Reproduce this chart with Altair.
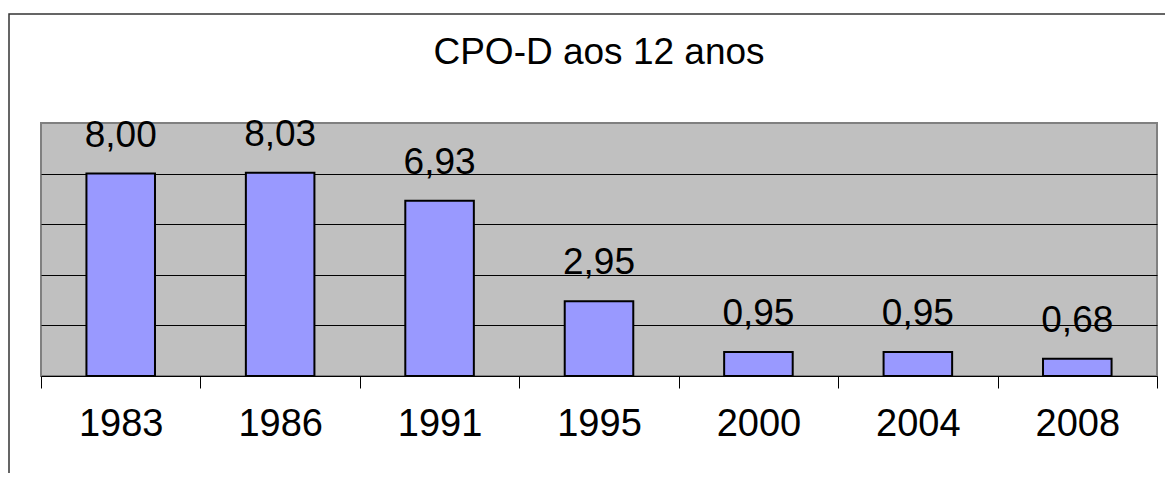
import altair as alt
import pandas as pd

years = ["1983", "1986", "1991", "1995", "2000", "2004", "2008"]
values = [8.00, 8.03, 6.93, 2.95, 0.95, 0.95, 0.68]
labels = ["8,00", "8,03", "6,93", "2,95", "0,95", "0,95", "0,68"]
title_text = "CPO-D aos 12 anos"

df = pd.DataFrame({"year": years, "value": values, "label": labels})

W, H = 1116, 253
FONT = "Liberation Sans"

yenc = alt.Y(
    "value:Q",
    title=None,
    scale=alt.Scale(domain=[0, 10], nice=False),
    axis=alt.Axis(
        values=[2, 4, 6, 8],
        labels=False,
        ticks=False,
        domain=False,
        grid=True,
        gridColor="black",
        gridWidth=1,
        gridOpacity=1,
    ),
)

frame = alt.Chart(alt.Data(values=[{"a": 1}])).mark_rect(
    fill=None, stroke="#333333", strokeWidth=1.5, clip=False
).encode(
    x=alt.value(-32), x2=alt.value(W + 60),
    y=alt.value(-109), y2=alt.value(H + 300),
)

base = alt.Chart(df)
bars = base.mark_bar(color="#9999FF", stroke="black", strokeWidth=2).encode(
    x=alt.X("year:N", sort=years, title=None,
            scale=alt.Scale(paddingInner=0.57, paddingOuter=0.285), axis=None),
    y=yenc,
)
text = base.mark_text(
    baseline="alphabetic", dy=-27, fontSize=37, font=FONT, color="black"
).encode(
    x=alt.X(
        "year:N", sort=years, title=None,
        scale=alt.Scale(paddingInner=0, paddingOuter=0),
        axis=alt.Axis(
            tickBand="extent",
            labelAngle=0,
            labelFontSize=38,
            labelFont=FONT,
            labelColor="black",
            labelPadding=17,
            tickColor="black",
            tickSize=12,
            tickWidth=1,
            domainColor="black",
            domainWidth=1,
            grid=False,
        ),
    ),
    y="value:Q",
    text="label:N",
)

chart = alt.layer(frame, bars, text).resolve_scale(x="independent").properties(
    width=W,
    height=H,
    title=alt.TitleParams(
        title_text, fontSize=37, font=FONT, fontWeight="normal", color="black",
        anchor="middle", offset=-59,
    ),
    padding={"left": 33, "top": 115, "right": 8, "bottom": 97},
    autosize=alt.AutoSizeParams(type="none"),
).configure(background="white").configure_view(
    fill="#C0C0C0", stroke="#808080", strokeWidth=2
)

chart.save("out.html", embed_options={"renderer": "svg", "actions": False})
